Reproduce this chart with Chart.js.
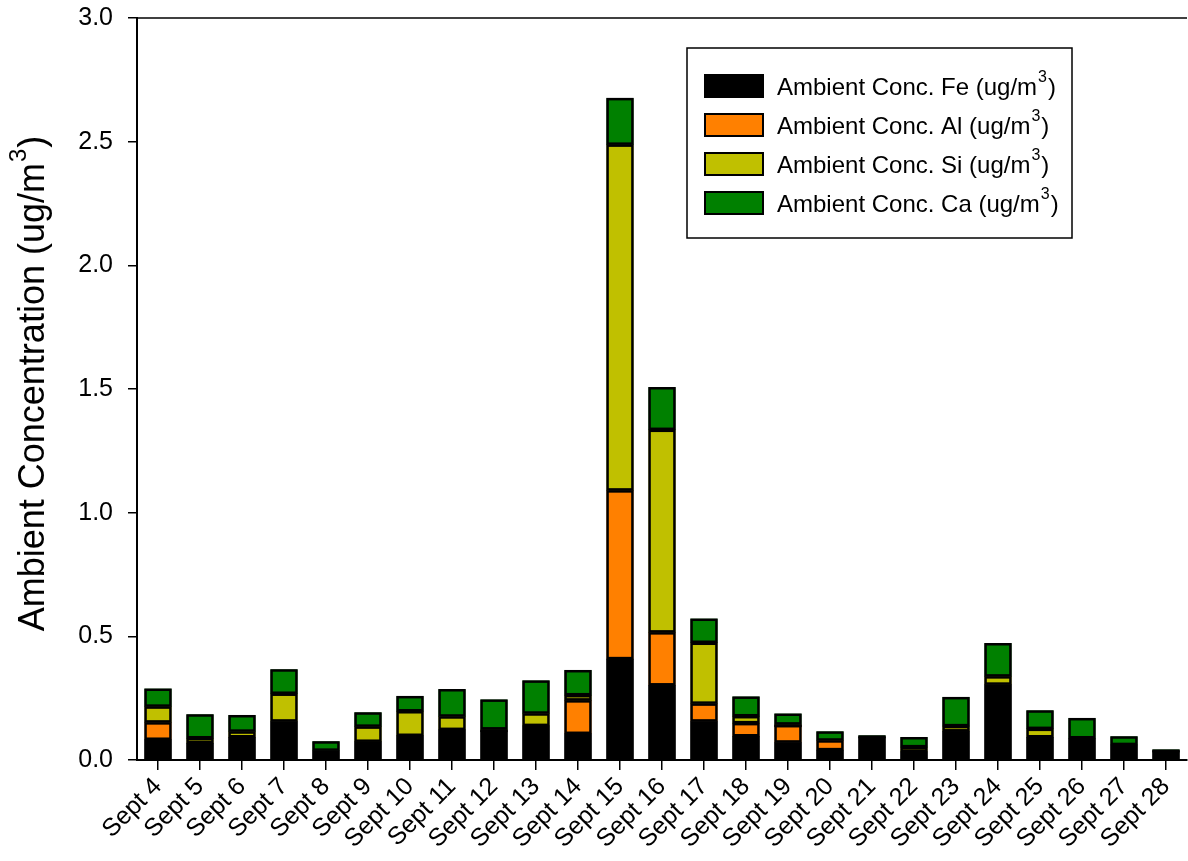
<!DOCTYPE html>
<html>
<head>
<meta charset="utf-8">
<script src="https://cdn.jsdelivr.net/npm/chart.js@4"></script>
<style>
  html, body { margin: 0; padding: 0; background: #fff; }
  #wrap { width: 1188px; height: 861px; position: relative; }
</style>
</head>
<body>
<div id="wrap"><canvas id="metalsChart"></canvas></div>
<script>
// ---- datos ----
const days = ['Sept 4', 'Sept 5', 'Sept 6', 'Sept 7', 'Sept 8', 'Sept 9', 'Sept 10', 'Sept 11',
    'Sept 12', 'Sept 13', 'Sept 14', 'Sept 15', 'Sept 16', 'Sept 17', 'Sept 18', 'Sept 19',
    'Sept 20', 'Sept 21', 'Sept 22', 'Sept 23', 'Sept 24', 'Sept 25', 'Sept 26', 'Sept 27', 'Sept 28'];

const feValues = [0.082, 0.068, 0.092, 0.156, 0.038, 0.074, 0.098, 0.122, 0.120, 0.138, 0.106, 0.408, 0.302,
    0.156, 0.096, 0.071, 0.040, 0.094, 0.033, 0.116, 0.305, 0.092, 0.088, 0.061, 0.038];
const alValues = [0.070, 0.000, 0.000, 0.000, 0.000, 0.000, 0.000, 0.000, 0.000, 0.000, 0.135, 0.682, 0.214,
    0.072, 0.053, 0.070, 0.039, 0.000, 0.000, 0.000, 0.000, 0.000, 0.000, 0.000, 0.000];
const siValues = [0.064, 0.020, 0.023, 0.112, 0.000, 0.061, 0.099, 0.054, 0.004, 0.050, 0.021, 1.398, 0.819,
    0.246, 0.028, 0.003, 0.000, 0.000, 0.019, 0.021, 0.033, 0.034, 0.000, 0.000, 0.000];
const caValues = [0.072, 0.096, 0.066, 0.098, 0.037, 0.057, 0.061, 0.110, 0.120, 0.133, 0.101, 0.188, 0.172,
    0.097, 0.079, 0.043, 0.036, 0.005, 0.040, 0.117, 0.134, 0.074, 0.081, 0.034, 0.004];

const yTicks = [0, 0.5, 1.0, 1.5, 2.0, 2.5, 3.0];

const seriesNames = ['Ambient Conc. Fe', 'Ambient Conc. Al', 'Ambient Conc. Si', 'Ambient Conc. Ca'];
const seriesColors = ['#000000', '#FF8000', '#C0C000', '#008000'];
const yTitle = 'Ambient Concentration (ug/m';

const FONT = '"Liberation Sans", Arial, sans-serif';

// texto con superindice "3" y parentesis final
function drawUnitText(ctx, text, x, y, size, supSize) {
    ctx.font = size + 'px ' + FONT;
    ctx.fillText(text, x, y);
    let tx = x + ctx.measureText(text).width;
    ctx.font = supSize + 'px ' + FONT;
    ctx.fillText('3', tx + 1, y - size * 0.42);
    tx += ctx.measureText('3').width + 2;
    ctx.font = size + 'px ' + FONT;
    ctx.fillText(')', tx, y);
}

function unitTextWidth(ctx, text, size, supSize) {
    ctx.font = size + 'px ' + FONT;
    let w = ctx.measureText(text).width + ctx.measureText(')').width + 3;
    ctx.font = supSize + 'px ' + FONT;
    return w + ctx.measureText('3').width;
}

// contorno negro de cada segmento (evita lineas blancas del antialias)
const barOutlines = {
    id: 'barOutlines',
    afterDatasetsDraw(chart) {
        const ctx = chart.ctx;
        ctx.save();
        ctx.strokeStyle = '#000';
        ctx.lineWidth = 2.5;
        chart.data.datasets.forEach((ds, i) => {
            const meta = chart.getDatasetMeta(i);
            meta.data.forEach((bar, j) => {
                if (!ds.data[j]) return;
                const p = bar.getProps(['x', 'y', 'base', 'width'], true);
                const top = Math.min(p.y, p.base);
                const hgt = Math.abs(p.base - p.y);
                ctx.strokeRect(p.x - p.width / 2 + 1, top + 1, p.width - 2, Math.max(hgt - 2, 0.5));
            });
        });
        ctx.restore();
    }
};

// leyenda con recuadro
const boxedLegend = {
    id: 'boxedLegend',
    afterDraw(chart) {
        const ctx = chart.ctx;
        const x0 = 687, y0 = 48, w = 385, h = 190;
        ctx.save();
        ctx.strokeStyle = '#000';
        ctx.lineWidth = 1.5;
        ctx.strokeRect(x0, y0, w, h);
        chart.data.datasets.forEach((ds, i) => {
            const cy = 86 + i * 39;
            ctx.fillStyle = ds.backgroundColor;
            ctx.fillRect(705, cy - 11, 58, 22);
            ctx.lineWidth = 2;
            ctx.strokeStyle = '#000';
            ctx.strokeRect(705, cy - 11, 58, 22);
            ctx.fillStyle = '#000';
            ctx.textBaseline = 'middle';
            ctx.textAlign = 'left';
            drawUnitText(ctx, ds.label + ' (ug/m', 777, cy + 2, 24, 16);
        });
        ctx.restore();
    }
};

// titulo del eje y con superindice
const yAxisTitle = {
    id: 'yAxisTitle',
    afterDraw(chart) {
        const ctx = chart.ctx;
        ctx.save();
        ctx.translate(34, 383);
        ctx.rotate(-Math.PI / 2);
        ctx.fillStyle = '#000';
        ctx.textBaseline = 'middle';
        ctx.textAlign = 'left';
        const tw = unitTextWidth(ctx, yTitle, 36, 24);
        drawUnitText(ctx, yTitle, -tw / 2, 0, 36, 24);
        ctx.restore();
    }
};

// linea superior del marco
const topFrame = {
    id: 'topFrame',
    afterDraw(chart) {
        const a = chart.chartArea;
        const ctx = chart.ctx;
        ctx.save();
        ctx.strokeStyle = '#000';
        ctx.lineWidth = 1.5;
        ctx.beginPath();
        ctx.moveTo(a.left, a.top);
        ctx.lineTo(a.right, a.top);
        ctx.stroke();
        ctx.restore();
    }
};

const series = [feValues, alValues, siValues, caValues];

new Chart(document.getElementById('metalsChart'), {
    type: 'bar',
    data: {
        labels: days,
        datasets: series.map((vals, i) => ({
            label: seriesNames[i],
            data: vals,
            backgroundColor: seriesColors[i],
            borderWidth: 0,
            barPercentage: 0.64,
            categoryPercentage: 1.0
        }))
    },
    options: {
        responsive: true,
        maintainAspectRatio: false,
        animation: false,
        layout: { padding: { top: 18, right: 1, left: 0, bottom: 0 } },
        plugins: {
            legend: { display: false },
            tooltip: { enabled: false }
        },
        scales: {
            x: {
                stacked: true,
                offset: true,
                grid: {
                    display: true,
                    drawOnChartArea: false,
                    offset: false,
                    tickLength: 10,
                    color: '#000',
                    lineWidth: 1.5
                },
                border: { display: true, color: '#000', width: 2 },
                ticks: {
                    color: '#000',
                    font: { family: FONT, size: 25 },
                    maxRotation: 45,
                    minRotation: 45,
                    autoSkip: false,
                    padding: 2
                },
                afterFit(scale) {
                    scale.height = 101;
                    scale.paddingLeft = 0;
                    scale.paddingRight = 0;
                }
            },
            y: {
                stacked: true,
                min: 0,
                max: 3.0,
                afterBuildTicks(scale) {
                    scale.ticks = yTicks.map(v => ({ value: v }));
                },
                grid: {
                    display: true,
                    drawOnChartArea: false,
                    tickLength: 9,
                    color: '#000',
                    lineWidth: 1.5
                },
                border: { display: true, color: '#000', width: 2 },
                ticks: {
                    color: '#000',
                    font: { family: FONT, size: 25 },
                    padding: 15,
                    callback: v => Number(v).toFixed(1)
                },
                afterFit(scale) {
                    scale.width = 137;
                    scale.paddingTop = 0;
                    scale.paddingBottom = 0;
                }
            }
        }
    },
    plugins: [barOutlines, boxedLegend, yAxisTitle, topFrame]
});
</script>
</body>
</html>
